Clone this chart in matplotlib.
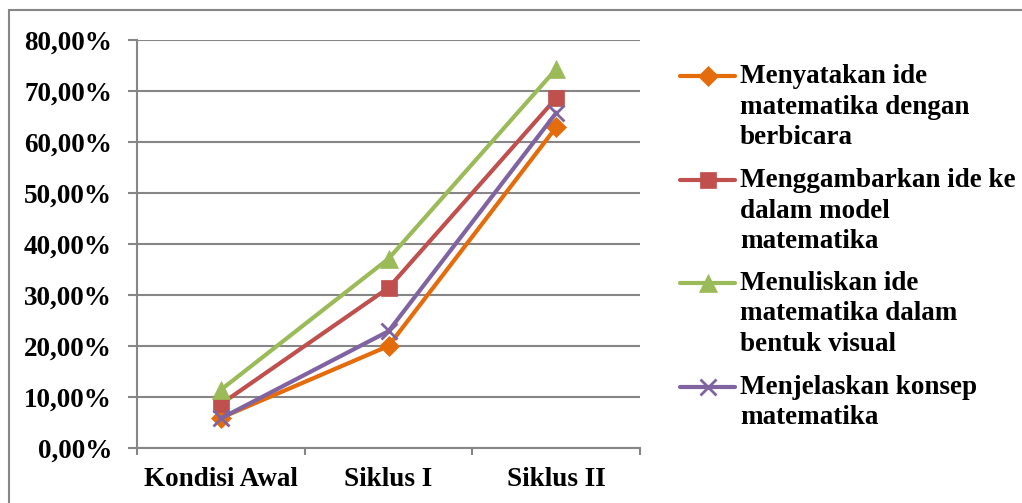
import matplotlib
matplotlib.use("Agg")
import matplotlib.pyplot as plt
from matplotlib.patches import Rectangle
from matplotlib.lines import Line2D

categories = ["Kondisi Awal", "Siklus I", "Siklus II"]
series_names = [
    ["Menyatakan ide", "matematika dengan", "berbicara"],
    ["Menggambarkan ide ke", "dalam model", "matematika"],
    ["Menuliskan ide", "matematika dalam", "bentuk visual"],
    ["Menjelaskan konsep", "matematika"],
]
s_berbicara = [5.9, 20.0, 62.9]
s_model = [8.6, 31.4, 68.6]
s_visual = [11.4, 37.1, 74.3]
s_konsep = [5.8, 22.9, 65.7]
yticks = [0, 10, 20, 30, 40, 50, 60, 70, 80]

colors = ["#E46C0A", "#C0504D", "#9BBB59", "#8064A2"]
markers = ["D", "s", "^", "x"]
msizes = [10, 11, 13, 12]
FS = 19.5

plt.rcParams['font.family'] = ['Liberation Serif', 'DejaVu Serif']
plt.rcParams['font.weight'] = 'bold'

W, H = 1022, 503
fig = plt.figure(figsize=(W/100, H/100), dpi=100)
ax = fig.add_axes([137/W, 1 - 448/H, (640-137)/W, (448-40)/H])

x = list(range(len(categories)))
for vals, c, m, ms in zip([s_berbicara, s_model, s_visual, s_konsep],
                          colors, markers, msizes):
    ax.plot(x, vals, color=c, marker=m, markersize=ms, linewidth=3,
            markeredgewidth=2 if m == "x" else 0.5, markeredgecolor=c,
            markerfacecolor=c, zorder=3)

ax.set_xlim(-0.5, 2.5)
ax.set_ylim(0, 80)
ax.set_yticks(yticks)
ax.set_yticklabels([f"{v:.2f}%".replace(".", ",") for v in yticks],
                   fontsize=FS, fontweight='bold')
ax.set_xticks(x)
ax.set_xticklabels(categories, fontsize=FS, fontweight='bold')
ax.tick_params(axis='x', length=0, pad=14)
ax.tick_params(axis='y', length=6.5, width=1.5, color="#868686", pad=11.5)
ax.set_xticks([-0.5, 0.5, 1.5, 2.5], minor=True)
ax.tick_params(axis='x', which='minor', length=5, width=1.5, color="#868686")

ax.grid(axis='y', color="#868686", linewidth=1.5)
ax.set_axisbelow(True)
for s in ['top', 'right']:
    ax.spines[s].set_visible(False)
for s in ['left', 'bottom']:
    ax.spines[s].set_color("#868686")
    ax.spines[s].set_linewidth(1.5)

# manual legend
marker_y = [76, 180, 283, 387]
for names, c, m, ms, my in zip(series_names, colors, markers, msizes, marker_y):
    fy = 1 - my / H
    fig.add_artist(Line2D([680/W, 735/W], [fy, fy], transform=fig.transFigure,
                          color=c, linewidth=3, solid_capstyle='round'))
    fig.add_artist(Line2D([707.5/W], [fy], transform=fig.transFigure,
                          color=c, marker=m, markersize=ms,
                          markeredgewidth=2 if m == "x" else 0.5,
                          markeredgecolor=c, markerfacecolor=c, linestyle='none'))
    for i, line in enumerate(names):
        by = my + 7 + 30.5 * i
        fig.text(740/W, 1 - by/H, line, fontsize=FS, fontweight='bold',
                 va='baseline', ha='left')

fig.patches.append(Rectangle((9/W, -0.1), 1.1, 1.1 - 10/H,
                             transform=fig.transFigure, fill=False,
                             edgecolor="#868686", linewidth=1.5))

fig.savefig("out.png", dpi=100)
